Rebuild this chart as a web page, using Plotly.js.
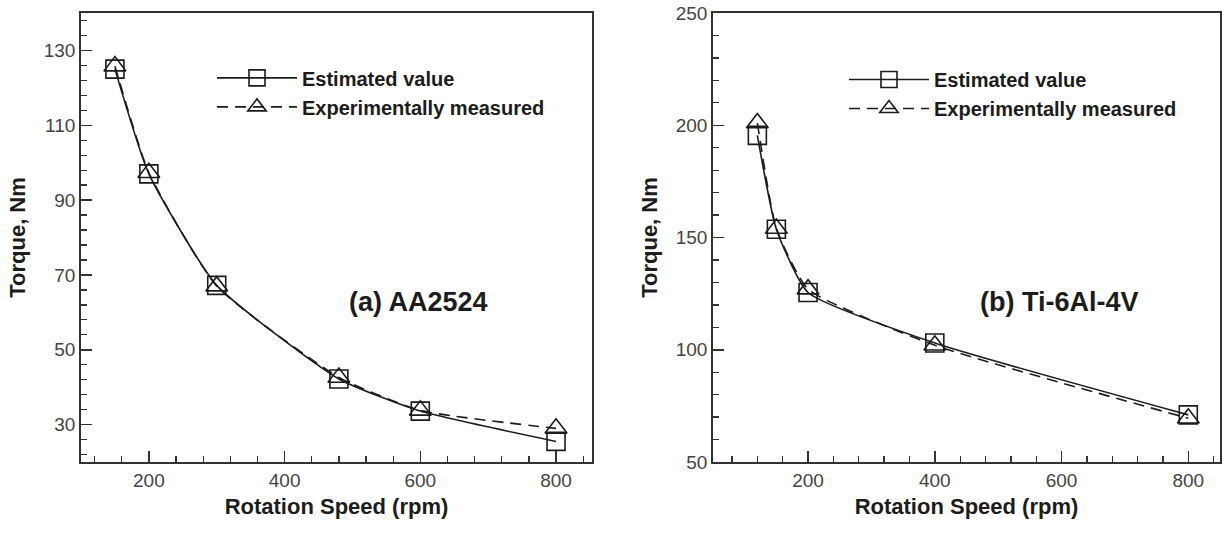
<!DOCTYPE html>
<html>
<head>
<meta charset="utf-8">
<script src="https://cdn.plot.ly/plotly-3.0.1.min.js"></script>
<style>html,body{margin:0;padding:0;background:#fff;}#chart{width:1224px;height:544px;}</style>
</head>
<body>
<div id="chart"></div>
<script>
// ---- data ----
const speedA = [150, 200, 300, 480, 600, 800];
const estimatedA = [125, 97, 67.2, 42.2, 33.6, 25.5];
const measuredA = [125.8, 97.3, 67, 42.6, 33.8, 29];

const speedB = [120, 150, 200, 400, 800];
const estimatedB = [195.5, 153.7, 125.5, 103, 71];
const measuredB = [201, 154, 127, 102, 69.5];

const seriesNames = ["Estimated value", "Experimentally measured"];
const panelLabels = ["(a) AA2524", "(b) Ti-6Al-4V"];
const axisTitles = {x: "Rotation Speed (rpm)", y: "Torque, Nm"};

// ---- styling ----
const ink = "#1c1c1c";
const fontFam = "Liberation Sans, Arial, sans-serif";

function series(x, y, name, sym, dash, xa, ya, leg) {
  return {
    type: "scatter", mode: "lines+markers",
    x: x, y: y, name: name, xaxis: xa, yaxis: ya, legend: leg, showlegend: true,
    line: {color: ink, width: 1.6, dash: dash, shape: "spline", smoothing: 0.5},
    marker: {symbol: sym, size: sym.indexOf("square") === 0 ? 18 : 19, color: ink,
             line: {color: ink, width: 1.6}},
    hoverinfo: "x+y"
  };
}

const traces = [
  series(speedA, estimatedA, seriesNames[0], "square-open", "solid", "x", "y", "legend"),
  series(speedA, measuredA, seriesNames[1], "triangle-up-open", "11px,7px", "x", "y", "legend"),
  series(speedB, estimatedB, seriesNames[0], "square-open", "solid", "x2", "y2", "legend2"),
  series(speedB, measuredB, seriesNames[1], "triangle-up-open", "11px,7px", "x2", "y2", "legend2")
];

function xaxis(domain, range, anchor) {
  return {
    domain: domain, range: range, anchor: anchor,
    tick0: 0, dtick: 200, ticks: "inside", ticklen: 11, tickwidth: 1.5, tickcolor: "#333",
    minor: {dtick: 40, tick0: 0, ticks: "inside", ticklen: 6, tickwidth: 1.3, tickcolor: "#333"},
    showline: true, linecolor: "#333", linewidth: 1.8, mirror: true,
    showgrid: false, zeroline: false,
    tickfont: {family: fontFam, size: 19, color: "#444"},
    title: {text: axisTitles.x, standoff: 9, font: {family: fontFam, size: 22, color: ink, weight: "bold"}}
  };
}
function yaxis(domain, range, dtick, minorDtick, tick0, anchor, standoff) {
  return {
    domain: domain, range: range, anchor: anchor,
    tick0: tick0, dtick: dtick, ticks: "inside", ticklen: 11, tickwidth: 1.5, tickcolor: "#333",
    minor: {dtick: minorDtick, tick0: tick0, ticks: "inside", ticklen: 6, tickwidth: 1.3, tickcolor: "#333"},
    showline: true, linecolor: "#333", linewidth: 1.8, mirror: true,
    showgrid: false, zeroline: false,
    tickfont: {family: fontFam, size: 19, color: "#444"},
    title: {text: axisTitles.y, standoff: standoff, font: {family: fontFam, size: 22, color: ink, weight: "bold"}}
  };
}

const legendStyle = (x, y) => ({
  x: x, y: y, xref: "paper", yref: "paper", xanchor: "left", yanchor: "top",
  bgcolor: "rgba(255,255,255,0)", borderwidth: 0, itemwidth: 80,
  font: {family: fontFam, size: 20, color: ink, weight: "bold"},
  tracegroupgap: 0
});

const layout = {
  width: 1224, height: 544,
  margin: {l: 0, r: 0, t: 13, b: 82},
  paper_bgcolor: "#fff", plot_bgcolor: "#fff",
  showlegend: true,
  xaxis: xaxis([81 / 1224, 592 / 1224], [100, 853], "y"),
  yaxis: yaxis([0, 1], [20, 140], 20, 4, 10, "x", 12),
  xaxis2: xaxis([713 / 1224, 1220 / 1224], [50, 850], "y2"),
  yaxis2: yaxis([0, 1], [50, 250], 50, 10, 0, "x2", 12),
  legend: legendStyle(212 / 1224, 1 - 55 / 544),
  legend2: legendStyle(844 / 1224, 1 - 57 / 544),
  annotations: [
    {text: panelLabels[0], xref: "x domain", yref: "y domain", x: 0.66, y: 0.356,
     xanchor: "center", yanchor: "middle", showarrow: false,
     font: {family: fontFam, size: 27, color: ink, weight: "bold"}},
    {text: panelLabels[1], xref: "x2 domain", yref: "y2 domain", x: 0.684, y: 0.356,
     xanchor: "center", yanchor: "middle", showarrow: false,
     font: {family: fontFam, size: 27, color: ink, weight: "bold"}}
  ]
};

Plotly.newPlot("chart", traces, layout, {displayModeBar: false, staticPlot: true});
</script>
</body>
</html>
